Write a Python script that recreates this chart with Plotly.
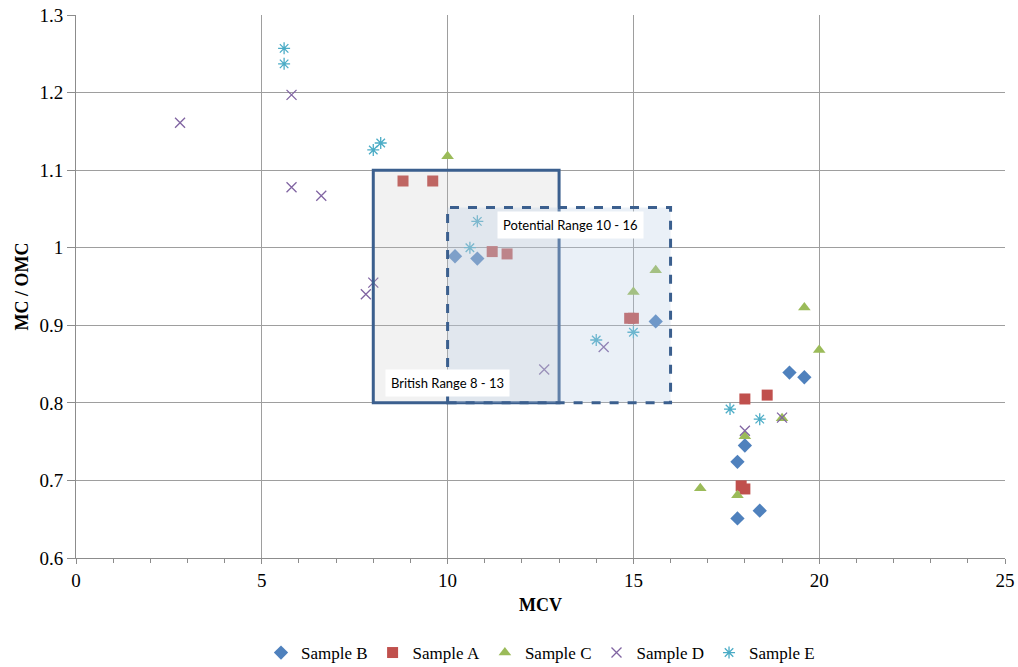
import plotly.graph_objects as go

# MCV / (MC/OMC) measurements per sample
b_x = [10.2, 10.8, 15.6, 19.2, 19.6, 18.0, 17.8, 18.4, 17.8]
b_y = [0.989, 0.986, 0.905, 0.839, 0.833, 0.745, 0.724, 0.661, 0.651]

a_x = [8.8, 9.6, 11.2, 11.6, 14.9, 15.0, 18.0, 18.6, 17.9, 18.0]
a_y = [1.086, 1.086, 0.995, 0.992, 0.909, 0.909, 0.805, 0.810, 0.693, 0.689]

c_x = [10.0, 15.6, 15.0, 19.6, 20.0, 19.0, 18.0, 16.8, 17.8]
c_y = [1.118, 0.971, 0.943, 0.923, 0.868, 0.780, 0.757, 0.690, 0.681]

d_x = [2.8, 5.8, 5.8, 6.6, 7.8, 8.0, 12.6, 14.2, 18.0, 19.0]
d_y = [1.161, 1.197, 1.078, 1.067, 0.940, 0.955, 0.843, 0.872, 0.764, 0.781]

e_x = [5.6, 5.6, 8.0, 8.2, 10.8, 10.6, 14.0, 15.0, 17.6, 18.4]
e_y = [1.257, 1.237, 1.126, 1.135, 1.034, 1.000, 0.881, 0.891, 0.792, 0.779]

# Reference ranges: (x0, x1, y0, y1)
british_range = (8, 13, 0.8, 1.1)
potential_range = (10, 16, 0.8, 1.052)

series = [
    ("Sample B", b_x, b_y, dict(symbol="diamond", size=11, color="#4f81bd")),
    ("Sample A", a_x, a_y, dict(symbol="square", size=11, color="#c0504d")),
    ("Sample C", c_x, c_y, dict(symbol="triangle-up", size=11, color="#9bbb59")),
    ("Sample D", d_x, d_y, dict(symbol="x-thin-open", size=10, color="#8064a2",
                                line=dict(width=1.3, color="#8064a2"))),
    ("Sample E", e_x, e_y, dict(symbol="asterisk-open", size=10, color="#4bacc6",
                                line=dict(width=1.3, color="#4bacc6"))),
]

fig = go.Figure()
for name, xs, ys, mk in series:
    fig.add_trace(go.Scatter(x=xs, y=ys, mode="markers", name=name, marker=mk))

bx0, bx1, by0, by1 = british_range
fig.add_shape(type="rect", x0=bx0, x1=bx1, y0=by0, y1=by1, layer="above",
              fillcolor="rgba(191,191,191,0.2)",
              line=dict(color="#3b5f8e", width=3))
px0, px1, py0, py1 = potential_range
fig.add_shape(type="rect", x0=px0, x1=px1, y0=py0, y1=py1, layer="above",
              fillcolor="rgba(184,204,228,0.3)",
              line=dict(color="#3b5f8e", width=3, dash="dash"))

label_font = dict(family="Lato", size=13, color="#000000")
fig.add_annotation(x=(px0 + px1) / 2 + 0.3, y=1.029, text="Potential Range 10 - 16",
                   showarrow=False, font=label_font, bgcolor="#ffffff",
                   borderpad=5, xanchor="center", yanchor="middle")
fig.add_annotation(x=10.0, y=0.826, text="British Range 8 - 13",
                   showarrow=False, font=label_font, bgcolor="#ffffff",
                   borderpad=5, xanchor="center", yanchor="middle")

serif = "Liberation Serif"
fig.update_layout(
    width=1018, height=667,
    margin=dict(l=76, r=13, t=15, b=109, autoexpand=False),
    plot_bgcolor="#ffffff", paper_bgcolor="#ffffff",
    font=dict(family=serif, size=15, color="#000000"),
    showlegend=True,
    legend=dict(orientation="h", x=0.5, xanchor="center",
                yref="container", y=0.048, yanchor="top",
                font=dict(family=serif, size=17), itemwidth=30, tracegroupgap=0),
    xaxis=dict(
        range=[0, 25], dtick=5, tick0=0, automargin=False,
        showgrid=True, gridcolor="#9e9e9e", gridwidth=1,
        showline=True, linecolor="#8c8c8c", linewidth=1,
        ticks="outside", ticklen=5, tickcolor="#8c8c8c",
        minor=dict(dtick=1, ticks="outside", ticklen=4, tickcolor="#8c8c8c", showgrid=False),
        zeroline=False,
        title=dict(text="<b>MCV</b>", font=dict(family=serif, size=18), standoff=8),
        tickfont=dict(family=serif, size=19),
    ),
    yaxis=dict(
        range=[0.6, 1.3], dtick=0.1, tick0=0.6, automargin=False,
        showgrid=True, gridcolor="#9e9e9e", gridwidth=1,
        showline=True, linecolor="#8c8c8c", linewidth=1,
        ticks="outside", ticklen=8, tickcolor="#8c8c8c",
        zeroline=False,
        title=dict(text="<b>MC / OMC</b>", font=dict(family=serif, size=18), standoff=6),
        tickfont=dict(family=serif, size=19),
    ),
)

fig.write_html("out.html")
